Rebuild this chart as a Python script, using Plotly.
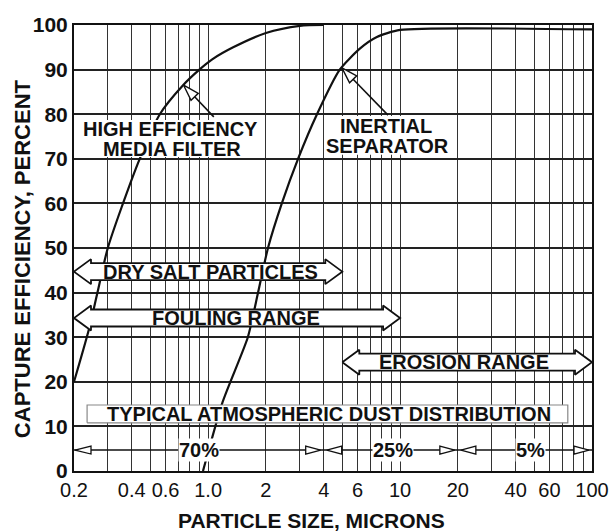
import numpy as np
import plotly.graph_objects as go

# ---------------- data ----------------
media_x = [0.2, 0.24, 0.265, 0.3, 0.36, 0.44, 0.56, 0.74, 0.9, 1.05, 1.35, 2.0, 3.0, 4.0]
media_y = [20, 32, 40, 50, 60, 70, 80, 86.5, 90, 92.3, 95, 98.2, 99.8, 100]

inertial_x = [0.94, 1.19, 1.61, 1.82, 2.05, 2.42, 2.94, 3.69, 4.85, 6.17, 7.57, 10, 100]
inertial_y = [0, 15.5, 30, 40, 50, 60, 70, 80, 90, 94.7, 97.3, 98.9, 99]

x_tickvals = [0.2, 0.4, 0.6, 1, 2, 4, 6, 10, 20, 40, 60, 100]
x_ticktext = ["0.2", "0.4", "0.6", "1.0", "2", "4", "6", "10", "20", "40", "60", "100"]
x_minorvals = [0.3, 0.5, 0.7, 0.8, 0.9, 3, 5, 7, 8, 9, 30, 50, 70, 80, 90]
y_tickvals = [0, 10, 20, 30, 40, 50, 60, 70, 80, 90, 100]

# range banners: label, start, end, centre %, label x
banner_labels = ["DRY SALT PARTICLES", "FOULING RANGE", "EROSION RANGE"]
banner_start = [0.2, 0.2, 5]
banner_end = [5, 10, 100]
banner_y = [44.7, 34.3, 24.4]
banner_text_x = [1.03, 1.40, 21.5]

# dust distribution
dust_bounds = [0.2, 4, 20, 100]
dust_labels = ["70%", "25%", "5%"]
dust_label_x = [0.9, 9.2, 48]
dust_y = 4.7

# ---------------- geometry helpers ----------------
X0, X1 = 0.2, 100
PLOT_W, PLOT_H = 518, 446
PPD = PLOT_W / (np.log10(X1) - np.log10(X0))   # px per decade
PPP = PLOT_H / 100.0                            # px per percent
FONT = "Liberation Sans, Arial, sans-serif"
INK = "#111111"


def to_px(x, y):
    return np.log10(x) * PPD, y * PPP


def from_px(px, py):
    return 10 ** (px / PPD), py / PPP


def polygon(pts_px):
    xs, ys = zip(*[from_px(a, b) for a, b in pts_px])
    return list(xs), list(ys)


def banner_shape(x0, x1, yc, head_len=17, body=8.5, head=12.5):
    a, y = to_px(x0, yc)
    b, _ = to_px(x1, yc)
    pts = [(a, y), (a + head_len, y + head), (a + head_len, y + body),
           (b - head_len, y + body), (b - head_len, y + head), (b, y),
           (b - head_len, y - head), (b - head_len, y - body),
           (a + head_len, y - body), (a + head_len, y - head), (a, y)]
    return polygon(pts)


def tri(tip_px, back_px, yc_px, half=4):
    return polygon([(tip_px, yc_px), (back_px, yc_px + half),
                    (back_px, yc_px - half), (tip_px, yc_px)])


def pointer(tip, tail, L=16, w=5):
    tx, ty = to_px(*tip)
    ex, ey = to_px(*tail)
    d = np.array([ex - tx, ey - ty])
    u = d / np.linalg.norm(d)
    n = np.array([-u[1], u[0]])
    base = np.array([tx, ty]) + u * L
    head = polygon([(tx, ty), tuple(base + n * w), tuple(base - n * w), (tx, ty)])
    line = polygon([tuple(base), (ex, ey)])
    return head, line


def rect(xa, xb, ya, yb):
    return [xa, xb, xb, xa, xa], [ya, ya, yb, yb, ya]


fig = go.Figure()

# curves
fig.add_trace(go.Scatter(x=media_x, y=media_y, mode="lines",
                         line=dict(color=INK, width=2.2, shape="spline", smoothing=0.8),
                         hoverinfo="skip", showlegend=False))
fig.add_trace(go.Scatter(x=inertial_x, y=inertial_y, mode="lines",
                         line=dict(color=INK, width=2.2, shape="spline", smoothing=0.6),
                         hoverinfo="skip", showlegend=False))

# white backgrounds behind the curve labels
for xa, xb, ya, yb in [(0.212, 1.86, 70.4, 78.7), (4.2, 19.3, 70.9, 79.6)]:
    rx, ry = rect(xa, xb, ya, yb)
    fig.add_trace(go.Scatter(x=rx, y=ry, mode="lines", fill="toself",
                             fillcolor="white", line=dict(width=0),
                             hoverinfo="skip", showlegend=False))

# banners
for s, e, yc in zip(banner_start, banner_end, banner_y):
    bx, by = banner_shape(s, e, yc)
    fig.add_trace(go.Scatter(x=bx, y=by, mode="lines", fill="toself",
                             fillcolor="white", line=dict(color=INK, width=1.8),
                             hoverinfo="skip", showlegend=False))

# dust distribution box
rx, ry = rect(0.234, 74.8, 10.8, 14.8)
fig.add_trace(go.Scatter(x=rx, y=ry, mode="lines", fill="toself",
                         fillcolor="white", line=dict(color="#888888", width=1.2),
                         hoverinfo="skip", showlegend=False))

# dust distribution line with hollow heads
fig.add_trace(go.Scatter(x=[dust_bounds[0], dust_bounds[-1]], y=[dust_y, dust_y],
                         mode="lines", line=dict(color=INK, width=1.4),
                         hoverinfo="skip", showlegend=False))
heads = []
p0, yp = to_px(dust_bounds[0], dust_y)
heads.append(tri(p0 + 1, p0 + 17, yp))
for b in dust_bounds[1:-1]:
    pb, _ = to_px(b, dust_y)
    heads.append(tri(pb - 3, pb - 18, yp))
    heads.append(tri(pb + 3, pb + 18, yp))
pe, _ = to_px(dust_bounds[-1], dust_y)
heads.append(tri(pe - 3, pe - 18, yp))
for hx, hy in heads:
    fig.add_trace(go.Scatter(x=hx, y=hy, mode="lines", fill="toself",
                             fillcolor="white", line=dict(color=INK, width=1.3),
                             hoverinfo="skip", showlegend=False))

# pointers from labels to curves
for tip, tail in [((0.745, 86.5), (1.07, 79.4)), ((4.98, 90.4), (8.65, 79.8))]:
    (hx, hy), (lx, ly) = pointer(tip, tail)
    fig.add_trace(go.Scatter(x=lx, y=ly, mode="lines", line=dict(color=INK, width=1.6),
                             hoverinfo="skip", showlegend=False))
    fig.add_trace(go.Scatter(x=hx, y=hy, mode="lines", fill="toself", fillcolor="white",
                             line=dict(color=INK, width=1.4),
                             hoverinfo="skip", showlegend=False))

# ---------------- text ----------------
ann = []


def add_text(txt, x, y, size=20, bg=None, **kw):
    d = dict(text=txt, x=np.log10(x), y=y, xref="x", yref="y", showarrow=False,
             font=dict(family=FONT, size=size, color=INK, weight="bold"),
             xanchor="center", yanchor="middle", borderpad=0)
    if bg:
        d["bgcolor"] = bg
    d.update(kw)
    ann.append(d)


add_text("HIGH EFFICIENCY", 0.635, 76.6)
add_text("MEDIA FILTER", 0.645, 72.3)
add_text("INERTIAL", 8.45, 77.4)
add_text("SEPARATOR", 8.55, 72.9)
for t, xt, yc in zip(banner_labels, banner_text_x, banner_y):
    add_text(t, xt, yc)
add_text("TYPICAL ATMOSPHERIC DUST DISTRIBUTION", 4.24, 12.8)
for t, xt in zip(dust_labels, dust_label_x):
    add_text(t, xt, dust_y, bg="white")

ann.append(dict(text="CAPTURE EFFICIENCY, PERCENT", xref="paper", yref="paper",
                x=(22 - 74) / PLOT_W, y=0.475, textangle=-90, showarrow=False,
                font=dict(family=FONT, size=22, color=INK, weight="bold"),
                xanchor="center", yanchor="middle"))
ann.append(dict(text="PARTICLE SIZE, MICRONS", xref="paper", yref="paper",
                x=(311 - 74) / PLOT_W, y=(471 - 520) / PLOT_H, showarrow=False,
                font=dict(family=FONT, size=21, color=INK, weight="bold"),
                xanchor="center", yanchor="middle"))

fig.update_layout(
    width=614, height=532,
    margin=dict(l=74, r=22, t=25, b=61, autoexpand=False),
    paper_bgcolor="white", plot_bgcolor="white",
    annotations=ann, showlegend=False,
    xaxis=dict(type="log", range=[np.log10(X0), np.log10(X1)], automargin=False,
               tickmode="array", tickvals=x_tickvals, ticktext=x_ticktext,
               tickangle=0, ticks="", showgrid=True, gridcolor="#333333", gridwidth=1.3,
               minor=dict(tickmode="array", tickvals=x_minorvals, showgrid=True,
                          gridcolor="#333333", gridwidth=1.3, ticks=""),
               showline=True, linecolor=INK, linewidth=2, mirror=True, zeroline=False,
               tickfont=dict(family=FONT, size=20, color=INK)),
    yaxis=dict(range=[0, 100], tickmode="array", tickvals=y_tickvals, automargin=False,
               ticks="", showgrid=True, gridcolor="#222222", gridwidth=2,
               showline=True, linecolor=INK, linewidth=2, mirror=True, zeroline=False,
               tickfont=dict(family=FONT, size=21, color=INK, weight="bold")),
)

fig.write_html("out.html")
